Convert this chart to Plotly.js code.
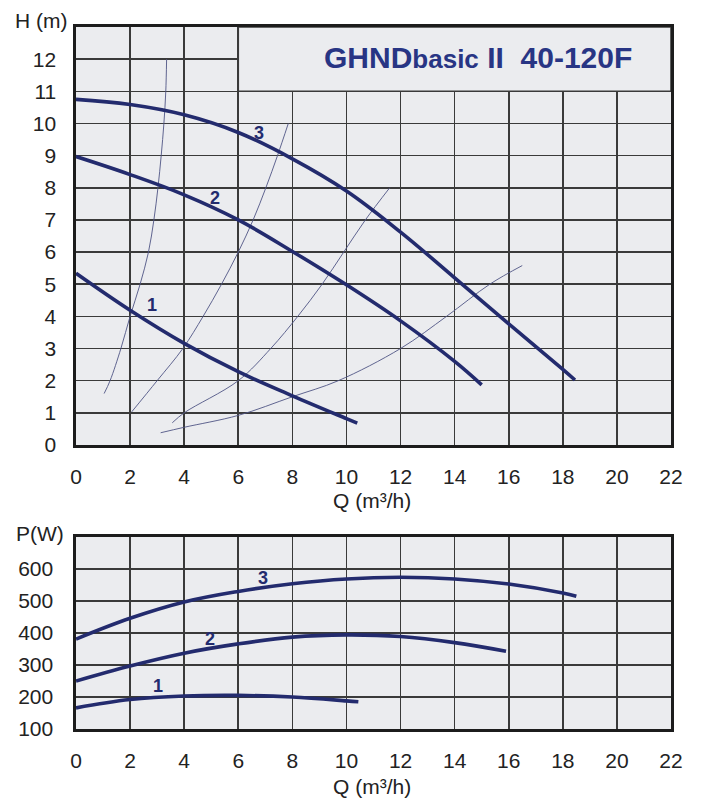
<!DOCTYPE html>
<html><head><meta charset="utf-8">
<script src="https://cdn.plot.ly/plotly-3.0.1.min.js"></script>
<style>html,body{margin:0;padding:0;background:#fff}#chart{width:702px;height:799px}</style>
</head><body><div id="chart"></div>
<script>
// ---- data ----
const qTicks = [0,2,4,6,8,10,12,14,16,18,20,22];
const hTicks = [0,1,2,3,4,5,6,7,8,9,10,11,12];
const pTicks = [100,200,300,400,500,600];

// pump head curves H(Q)
const q_h1 = [0,2,4,6,8,10,10.4];
const h1   = [5.34,4.19,3.16,2.28,1.53,0.82,0.68];
const q_h2 = [0,2,4,6,8,10,12,14,15];
const h2   = [8.97,8.41,7.78,7.0,6.02,4.98,3.86,2.6,1.87];
const q_h3 = [0,2,4,6,8,10,12,14,16,18,18.45];
const h3   = [10.75,10.59,10.27,9.72,8.9,7.9,6.62,5.2,3.77,2.35,2.02];

// system curves (thin)
const q_sa = [1.04,1.26,1.66,2.0,2.37,2.68,2.88,3.03,3.15,3.25,3.32,3.35];
const h_sa = [1.6,2,3,4,5,6,7,8,9,10,11,12];
const q_sb = [2.06,3.0,3.95,4.7,5.38,6.0,6.55,7.02,7.45,7.85];
const h_sb = [1.03,2,3,4,5,6,7,8,9,10];
const q_sc = [3.56,4.0,6.0,7.2,8.2,9.1,9.9,10.7,11.6];
const h_sc = [0.69,1.0,2.0,3.0,4.0,5.0,6.0,7.0,8.0];
const q_sd = [3.13,4,6,8,9.7,12,13.7,15.3,16.5];
const h_sd = [0.38,0.55,0.92,1.5,2,3,4,5,5.58];

// power curves P(Q)
const q_p1 = [0,2,4,6,8,10,10.44];
const p1   = [166,192,203,205,200,188,185];
const q_p2 = [0,2,4,6,8,10,12,14,15.9];
const p2   = [250,297,337,366,387,394,389,370,343];
const q_p3 = [0,2,4,6,8,10,12,14,16,18,18.5];
const p3   = [381,446,497,530,554,569,574,569,553,525,515];

const curveLabels = ['1','2','3'];

// ---- styles ----
const NAVY = '#232b6e';
const THIN = '#4f5585';
const BG = '#ebecef';
const GRID = '#3a3a3a';
const FRAME = '#1c1c1c';
const FONT = 'Liberation Sans, Arial, sans-serif';

function thick(x, y, xa, ya) {
  return {x, y, xaxis: xa, yaxis: ya, type: 'scatter', mode: 'lines',
    line: {color: NAVY, width: 3.6, shape: 'spline', smoothing: 1.1}, hoverinfo: 'skip'};
}
function thin(x, y) {
  return {x, y, xaxis: 'x', yaxis: 'y', type: 'scatter', mode: 'lines',
    line: {color: THIN, width: 0.9, shape: 'spline', smoothing: 1.0}, hoverinfo: 'skip'};
}

const data = [
  thin(q_sa, h_sa), thin(q_sb, h_sb), thin(q_sc, h_sc), thin(q_sd, h_sd),
  thick(q_h1, h1, 'x', 'y'), thick(q_h2, h2, 'x', 'y'), thick(q_h3, h3, 'x', 'y'),
  thick(q_p1, p1, 'x2', 'y2'), thick(q_p2, p2, 'x2', 'y2'), thick(q_p3, p3, 'x2', 'y2')
];

const tickFont = {family: FONT, size: 21, color: '#222'};
function xAxis(anchor) {
  return {anchor, range: [0, 22], tickvals: qTicks, ticktext: qTicks.map(String),
    showgrid: true, gridcolor: GRID, gridwidth: 1.6, zeroline: false,
    showline: true, mirror: true, linecolor: FRAME, linewidth: 2.6,
    ticks: '', ticklabelstandoff: 11, tickfont: tickFont, fixedrange: true};
}
function yAxis(anchor, domain, range, tv, so) {
  return {anchor, domain, range, tickvals: tv, ticktext: tv.map(String),
    showgrid: true, gridcolor: GRID, gridwidth: 1.6, zeroline: false,
    showline: true, mirror: true, linecolor: FRAME, linewidth: 2.6,
    ticks: '', ticklabelstandoff: so, tickfont: tickFont, fixedrange: true};
}

const labFont = {family: FONT, size: 18, color: NAVY};
function lab(text, x, y, xr, yr) {
  return {text: '<b>' + text + '</b>', x, y, xref: xr, yref: yr, showarrow: false, font: labFont};
}

const layout = {
  width: 702, height: 799,
  margin: {l: 76, r: 31, t: 27, b: 70},
  paper_bgcolor: '#ffffff', plot_bgcolor: BG,
  showlegend: false,
  xaxis: xAxis('y'),
  yaxis: yAxis('x', [0.4046, 1], [0, 13], hTicks, 13),
  xaxis2: xAxis('y2'),
  yaxis2: yAxis('x2', [0, 0.2735], [100, 700], pTicks, 16),
  shapes: [
    {type: 'rect', xref: 'x', yref: 'y', x0: 6, x1: 22, y0: 11, y1: 13,
     fillcolor: BG, line: {color: GRID, width: 1.6}, layer: 'between'}
  ],
  annotations: [
    {text: '<b>GHND<span style="font-size:26px">basic</span>\u00A0II\u00A0\u00A040-120F</b>',
     x: 14.86, y: 12.05, xref: 'x', yref: 'y', showarrow: false,
     font: {family: FONT, size: 30, color: '#283584'}},
    {text: 'H (m)', x: 0, y: 0, xref: 'paper', yref: 'paper', showarrow: false,
     xanchor: 'right', yanchor: 'middle', font: {family: FONT, size: 21, color: '#222'}},
    {text: 'Q (m³/h)', x: 0.5, y: 0, xref: 'paper', yref: 'paper', showarrow: false,
     xanchor: 'center', yanchor: 'middle', font: {family: FONT, size: 21, color: '#222'}},
    {text: 'P(W)', x: 0, y: 0, xref: 'paper', yref: 'paper', showarrow: false,
     xanchor: 'right', yanchor: 'middle', font: {family: FONT, size: 21, color: '#222'}},
    {text: 'Q (m³/h)', x: 0.5, y: 0, xref: 'paper', yref: 'paper', showarrow: false,
     xanchor: 'center', yanchor: 'middle', font: {family: FONT, size: 21, color: '#222'}},
    lab(curveLabels[2], 6.77, 9.7, 'x', 'y'),
    lab(curveLabels[1], 5.14, 7.68, 'x', 'y'),
    lab(curveLabels[0], 2.81, 4.35, 'x', 'y'),
    lab(curveLabels[2], 6.9, 571, 'x2', 'y2'),
    lab(curveLabels[1], 4.95, 380, 'x2', 'y2'),
    lab(curveLabels[0], 3.04, 234, 'x2', 'y2')
  ]
};

// convert pixel positions for axis titles into paper coordinates
const plotTop = 27, plotBottom = 729, plotH = plotBottom - plotTop, plotL = 76, plotW = 702 - 76 - 31;
function py(p) { return (plotBottom - p) / plotH; }
function px(p) { return (p - plotL) / plotW; }
layout.annotations[1].x = px(69); layout.annotations[1].y = py(20);
layout.annotations[2].x = px(372); layout.annotations[2].y = py(500);
layout.annotations[3].x = px(66); layout.annotations[3].y = py(533);
layout.annotations[4].x = px(372); layout.annotations[4].y = py(786);

Plotly.newPlot('chart', data, layout, {staticPlot: true, displayModeBar: false});
</script>
</body></html>
